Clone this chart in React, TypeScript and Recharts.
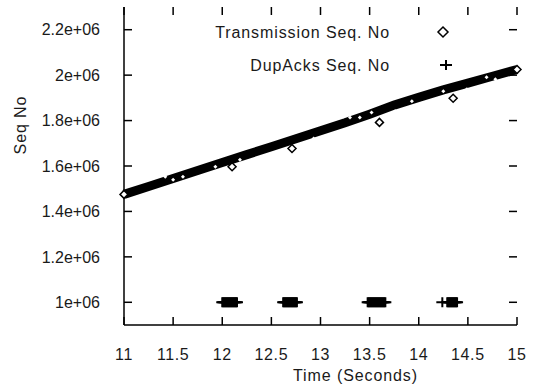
import {
  ComposedChart,
  Line,
  Scatter,
  XAxis,
  YAxis,
} from "recharts";

// centre of the thick trace of transmitted segments
const BAND_TIME = [11, 11.25, 11.5, 11.75, 12, 12.25, 12.5, 12.75, 13, 13.25, 13.5, 13.75, 14, 14.25, 14.5, 14.75, 15];
const BAND_SEQ = [
  1475000, 1510000, 1545000, 1580000, 1615000, 1650000, 1685000, 1720000, 1755000,
  1790000, 1828000, 1868000, 1902000, 1935000, 1965000, 1995000, 2025000,
];

// diamonds that stick out of the band
const TX_TIME = [11.0, 12.1, 12.71, 13.6, 14.35, 15.0];
const TX_SEQ = [1475000, 1597000, 1677000, 1792000, 1898000, 2025000];

// hollow centres that show through inside the band
const SPECK_TIME = [11.42, 11.5, 11.6, 11.93, 12.18, 12.93, 13.3, 13.4, 13.52, 13.76, 13.93, 14.25, 14.49, 14.69, 14.78];
const SPECK_SEQ = [1553000, 1540000, 1553000, 1597000, 1628000, 1721000, 1814000, 1814000, 1836000, 1841000, 1885000, 1929000, 1938000, 1991000, 1982000];

// duplicate acks, all at 1e6
const DUP_TIME = [
  12.0, 12.01, 12.02, 12.03, 12.04, 12.05, 12.06, 12.07, 12.08, 12.09, 12.1, 12.11, 12.12, 12.13, 12.14, 12.15,
  12.62, 12.63, 12.64, 12.65, 12.66, 12.67, 12.68, 12.69, 12.7, 12.71, 12.72, 12.73, 12.74, 12.75, 12.76,
  13.48, 13.49, 13.5, 13.51, 13.52, 13.53, 13.54, 13.55, 13.56, 13.57, 13.58, 13.59, 13.6, 13.61, 13.62, 13.63, 13.64, 13.65, 13.66,
  14.24, 14.29, 14.3, 14.31, 14.32, 14.33, 14.34, 14.35, 14.36, 14.37, 14.38, 14.39,
];
const DUP_SEQ = 1000000;

const X_DOMAIN = [11, 15];
const Y_DOMAIN = [900000, 2300000];
const X_TICKS = [11, 11.5, 12, 12.5, 13, 13.5, 14, 14.5, 15];
const Y_TICKS = [1000000, 1200000, 1400000, 1600000, 1800000, 2000000, 2200000];

const band = BAND_TIME.map((t, i) => ({ t, v: BAND_SEQ[i] }));
const tx = TX_TIME.map((t, i) => ({ t, v: TX_SEQ[i] }));
const specks = SPECK_TIME.map((t, i) => ({ t, v: SPECK_SEQ[i] }));
const dup = DUP_TIME.map((t) => ({ t, v: DUP_SEQ }));

// tick mark anchors on the frame (gnuplot draws them inward, mirrored)
const ticksBottom = X_TICKS.map((t) => ({ t, v: Y_DOMAIN[0] }));
const ticksTop = X_TICKS.map((t) => ({ t, v: Y_DOMAIN[1] }));
const ticksLeft = Y_TICKS.map((v) => ({ t: X_DOMAIN[0], v }));
const ticksRight = Y_TICKS.map((v) => ({ t: X_DOMAIN[1], v }));

const W = 537;
const H = 388;
const LEFT = 124;
const RIGHT = 517;
const TOP = 7;
const BOTTOM = 325;
const FONT = "'Liberation Sans', Arial, sans-serif";
const INK = "#1a1a1a";
const AXIS = { stroke: "#000", strokeWidth: 1.5 };
const TL = 8;

function fmtY(v: number) {
  return `${v / 1000000}e+06`;
}

function Diamond({ cx, cy, r = 4 }: any) {
  if (cx == null || cy == null) return null;
  return (
    <path
      d={`M${cx},${cy - r}L${cx + r},${cy}L${cx},${cy + r}L${cx - r},${cy}Z`}
      fill="#fff"
      stroke="#000"
      strokeWidth={1.5}
    />
  );
}

function Speck({ cx, cy }: any) {
  if (cx == null || cy == null) return null;
  return <path d={`M${cx},${cy - 2}L${cx + 2},${cy}L${cx},${cy + 2}L${cx - 2},${cy}Z`} fill="#fff" />;
}

function Plus({ cx, cy }: any) {
  if (cx == null || cy == null) return null;
  return (
    <path
      d={`M${cx - 6},${cy}H${cx + 6}M${cx},${cy - 5}V${cy + 5}`}
      stroke="#000"
      strokeWidth={2}
      fill="none"
    />
  );
}

function TickUp({ cx, cy }: any) {
  if (cx == null || cy == null) return null;
  return <path d={`M${cx},${cy}V${cy - TL}`} stroke="#000" strokeWidth={1.5} fill="none" />;
}
function TickDown({ cx, cy }: any) {
  if (cx == null || cy == null) return null;
  return <path d={`M${cx},${cy}V${cy + TL}`} stroke="#000" strokeWidth={1.5} fill="none" />;
}
function TickRight({ cx, cy }: any) {
  if (cx == null || cy == null) return null;
  return <path d={`M${cx},${cy}H${cx + TL}`} stroke="#000" strokeWidth={1.5} fill="none" />;
}
function TickLeft({ cx, cy }: any) {
  if (cx == null || cy == null) return null;
  return <path d={`M${cx},${cy}H${cx - TL}`} stroke="#000" strokeWidth={1.5} fill="none" />;
}

const labelText = { fontFamily: FONT, fontSize: 16, fill: INK, letterSpacing: 0.9 };

export default function App() {
  return (
    <div style={{ position: "absolute", left: 0, top: 0, width: W, height: H, background: "#fff" }}>
      <ComposedChart width={W} height={H} margin={{ top: TOP, right: W - RIGHT, bottom: 0, left: 0 }}>
        <XAxis
          type="number"
          dataKey="t"
          domain={X_DOMAIN}
          ticks={X_TICKS}
          interval={0}
          height={H - BOTTOM}
          axisLine={AXIS}
          tickLine={false}
          tickSize={0}
          tickMargin={24}
          tick={{ fontFamily: FONT, fontSize: 16, fill: INK, letterSpacing: 0.6 }}
          label={{ value: "Time (Seconds)", position: "insideBottom", offset: 7, dx: 35, style: labelText }}
        />
        <YAxis
          type="number"
          dataKey="v"
          domain={Y_DOMAIN}
          ticks={Y_TICKS}
          interval={0}
          width={LEFT}
          axisLine={AXIS}
          tickLine={false}
          tickSize={0}
          tickMargin={24}
          tickFormatter={fmtY}
          tick={{ fontFamily: FONT, fontSize: 16, fill: INK }}
          label={{
            value: "Seq No",
            content: () => (
              <text
                x={20}
                y={125}
                transform="rotate(-90 20 125)"
                textAnchor="middle"
                dominantBaseline="central"
                {...labelText}
              >
                Seq No
              </text>
            ),
          }}
        />
        <XAxis xAxisId="top" orientation="top" type="number" domain={X_DOMAIN} height={0} tick={false} tickLine={false} axisLine={AXIS} />
        <YAxis yAxisId="right" orientation="right" type="number" domain={Y_DOMAIN} width={0} tick={false} tickLine={false} axisLine={AXIS} />

        <Scatter data={ticksBottom} dataKey="v" shape={<TickUp />} isAnimationActive={false} />
        <Scatter data={ticksTop} dataKey="v" shape={<TickDown />} isAnimationActive={false} />
        <Scatter data={ticksLeft} dataKey="v" shape={<TickRight />} isAnimationActive={false} />
        <Scatter data={ticksRight} dataKey="v" shape={<TickLeft />} isAnimationActive={false} />

        <Line
          data={band}
          dataKey="v"
          type="linear"
          stroke="#000"
          strokeWidth={9}
          dot={false}
          activeDot={false}
          isAnimationActive={false}
        />
        <Scatter data={specks} dataKey="v" shape={<Speck />} isAnimationActive={false} />
        <Scatter data={tx} dataKey="v" shape={<Diamond />} isAnimationActive={false} />
        <Scatter data={dup} dataKey="v" shape={<Plus />} isAnimationActive={false} />
      </ComposedChart>
      <svg width={W} height={90} style={{ position: "absolute", left: 0, top: 0, pointerEvents: "none" }}>
        <text x={390} y={32} textAnchor="end" dominantBaseline="central" {...labelText}>
          Transmission Seq. No
        </text>
        <Diamond cx={443} cy={32} r={5} />
        <text x={390} y={65} textAnchor="end" dominantBaseline="central" {...labelText}>
          DupAcks Seq. No
        </text>
        <Plus cx={446} cy={65} />
      </svg>
    </div>
  );
}
